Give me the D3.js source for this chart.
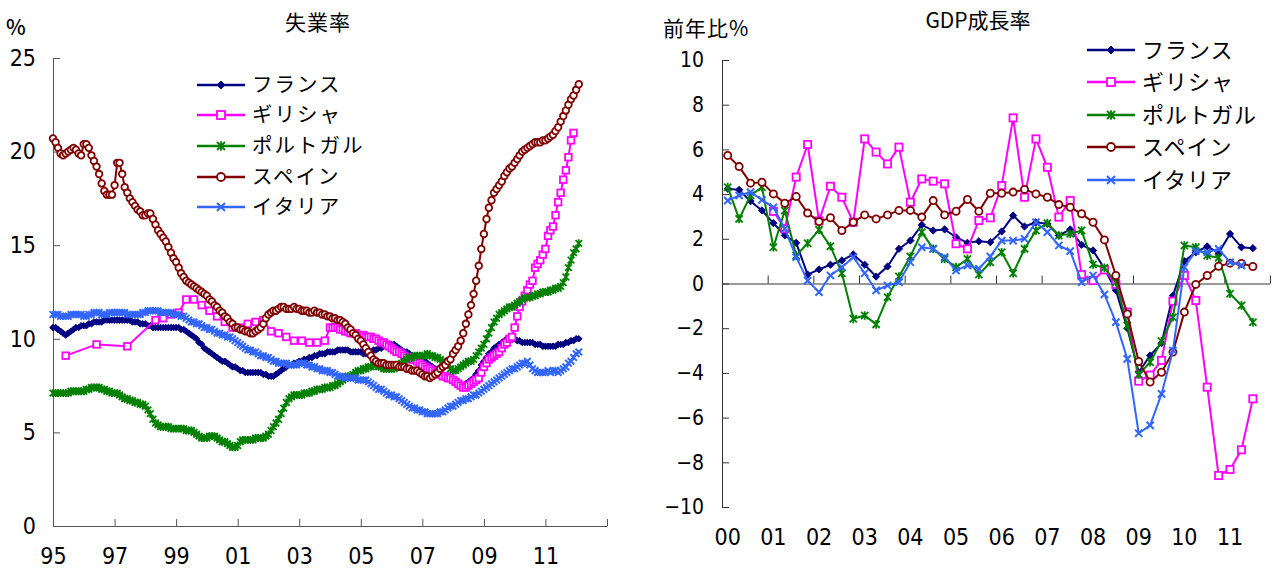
<!DOCTYPE html>
<html>
<head>
<meta charset="utf-8">
<script src="https://cdn.jsdelivr.net/npm/d3@7"></script>
<style>
  body { margin: 0; background: #fff; }
  .jp { font-family: "Noto Sans CJK JP", "Noto Sans", sans-serif; fill: #000; }
  .num { font-family: "Liberation Sans Narrow", "Arial Narrow", "DejaVu Sans Condensed", sans-serif; fill: #000; }
</style>
</head>
<body>
<svg id="chart" width="1274" height="568"></svg>
<script>
const countries = ['フランス', 'ギリシャ', 'ポルトガル', 'スペイン', 'イタリア']
const colors = ['#000080', '#ff00ff', '#008000', '#800000', '#3366ff']

// 失業率 (monthly, from 1995-01 to 2012-02)
const unempStart = '1995-01'
const unempFrance = [
  10.6, 10.6, 10.5, 10.4, 10.3, 10.2, 10.3, 10.4, 10.5, 10.6, 10.6, 10.7,
  10.7, 10.7, 10.8, 10.8, 10.9, 10.9, 10.9, 10.9, 11.0, 11.0, 11.0, 11.0,
  11.0, 11.0, 11.0, 11.0, 11.0, 11.0, 11.0, 10.9, 10.9, 10.9, 10.8, 10.8,
  10.8, 10.7, 10.7, 10.6, 10.6, 10.6, 10.6, 10.6, 10.6, 10.6, 10.6, 10.6,
  10.6, 10.6, 10.5, 10.5, 10.4, 10.3, 10.2, 10.1, 10.0, 9.8, 9.7, 9.5,
  9.4, 9.3, 9.2, 9.1, 9.0, 8.9, 8.8, 8.8, 8.7, 8.6, 8.5, 8.5,
  8.4, 8.3, 8.3, 8.2, 8.2, 8.2, 8.2, 8.2, 8.2, 8.2, 8.1, 8.1,
  8.0, 8.0, 8.0, 8.1, 8.2, 8.3, 8.4, 8.5, 8.6, 8.6, 8.7, 8.7,
  8.8, 8.8, 8.9, 8.9, 9.0, 9.0, 9.1, 9.1, 9.2, 9.2, 9.2, 9.3,
  9.3, 9.3, 9.3, 9.4, 9.4, 9.4, 9.4, 9.4, 9.3, 9.3, 9.3, 9.3,
  9.3, 9.2, 9.2, 9.3, 9.3, 9.4, 9.4, 9.5, 9.5, 9.6, 9.6, 9.6,
  9.7, 9.7, 9.6, 9.5, 9.4, 9.3, 9.3, 9.2, 9.1, 9.1, 9.0, 8.9,
  8.9, 8.8, 8.7, 8.6, 8.5, 8.4, 8.3, 8.2, 8.1, 8.0, 7.9, 7.8,
  7.7, 7.6, 7.5, 7.5, 7.5, 7.6, 7.7, 7.8, 7.9, 8.1, 8.3, 8.6,
  8.8, 9.0, 9.2, 9.3, 9.5, 9.6, 9.7, 9.8, 9.9, 10.0, 10.0, 10.0,
  10.0, 9.9, 9.9, 9.8, 9.8, 9.8, 9.8, 9.8, 9.7, 9.7, 9.7, 9.6,
  9.6, 9.6, 9.6, 9.6, 9.6, 9.7, 9.7, 9.7, 9.8, 9.8, 9.9, 9.9,
  10.0, 10.0
]
const unempPortugal = [
  7.1, 7.1, 7.1, 7.1, 7.1, 7.1, 7.1, 7.2, 7.2, 7.2, 7.2, 7.2,
  7.2, 7.3, 7.3, 7.4, 7.4, 7.4, 7.4, 7.3, 7.3, 7.2, 7.2, 7.1,
  7.1, 7.1, 7.0, 6.9, 6.8, 6.8, 6.7, 6.7, 6.6, 6.6, 6.5, 6.5,
  6.4, 6.2, 6.0, 5.7, 5.5, 5.4, 5.3, 5.3, 5.3, 5.3, 5.2, 5.2,
  5.2, 5.2, 5.2, 5.2, 5.1, 5.1, 5.1, 5.0, 4.9, 4.8, 4.7, 4.7,
  4.7, 4.8, 4.8, 4.8, 4.7, 4.6, 4.5, 4.5, 4.4, 4.3, 4.2, 4.2,
  4.3, 4.5, 4.6, 4.6, 4.6, 4.6, 4.6, 4.7, 4.7, 4.7, 4.7, 4.8,
  4.9, 5.1, 5.3, 5.5, 5.7, 6.0, 6.3, 6.6, 6.8, 6.9, 7.0, 7.0,
  7.0, 7.0, 7.1, 7.1, 7.1, 7.2, 7.2, 7.3, 7.3, 7.3, 7.4, 7.4,
  7.4, 7.5, 7.5, 7.6, 7.7, 7.8, 7.9, 8.0, 8.0, 8.1, 8.2, 8.3,
  8.3, 8.4, 8.4, 8.5, 8.5, 8.6, 8.6, 8.5, 8.5, 8.4, 8.4, 8.4,
  8.4, 8.4, 8.5, 8.6, 8.7, 8.8, 8.9, 9.0, 9.0, 9.1, 9.1, 9.1,
  9.1, 9.1, 9.2, 9.1, 9.1, 9.0, 9.0, 8.9, 8.8, 8.7, 8.6, 8.4,
  8.3, 8.3, 8.4, 8.5, 8.6, 8.7, 8.8, 8.8, 8.9, 9.1, 9.3, 9.5,
  9.7, 10.0, 10.3, 10.6, 10.9, 11.1, 11.3, 11.4, 11.5, 11.6, 11.7, 11.7,
  11.8, 11.9, 12.0, 12.1, 12.2, 12.2, 12.2, 12.3, 12.3, 12.4, 12.4, 12.5,
  12.5, 12.5, 12.6, 12.6, 12.7, 12.7, 12.8, 13.0, 13.3, 13.8, 14.2, 14.6,
  14.8, 15.1
]
const unempSpain = [
  20.7, 20.5, 20.2, 19.9, 19.8, 19.9, 20.0, 20.1, 20.2, 20.1, 19.9, 19.8,
  20.4, 20.4, 20.2, 19.8, 19.5, 19.2, 18.8, 18.3, 17.9, 17.7, 17.7, 17.7,
  18.2, 19.4, 19.4, 18.8, 18.1, 17.8, 17.5, 17.3, 17.1, 16.9, 16.8, 16.6,
  16.6, 16.7, 16.7, 16.4, 16.1, 15.8, 15.6, 15.4, 15.2, 14.9, 14.6, 14.3,
  14.1, 13.8, 13.5, 13.3, 13.1, 13.0, 12.9, 12.8, 12.7, 12.6, 12.5, 12.4,
  12.3, 12.1, 12.0, 11.8, 11.7, 11.5, 11.4, 11.2, 11.1, 10.9, 10.8, 10.6,
  10.6, 10.5, 10.5, 10.4, 10.4, 10.3, 10.3, 10.4, 10.5, 10.6, 10.8, 11.1,
  11.3, 11.4, 11.5, 11.5, 11.6, 11.7, 11.7, 11.6, 11.6, 11.6, 11.7, 11.6,
  11.6, 11.5, 11.5, 11.5, 11.4, 11.4, 11.5, 11.4, 11.4, 11.3, 11.3, 11.2,
  11.2, 11.1, 11.1, 11.0, 11.0, 10.9, 10.8, 10.6, 10.5, 10.3, 10.2, 10.0,
  9.9, 9.7, 9.5, 9.3, 9.1, 8.9, 8.8, 8.7, 8.7, 8.7, 8.6, 8.6,
  8.6, 8.6, 8.6, 8.5, 8.5, 8.5, 8.4, 8.4, 8.3, 8.3, 8.3, 8.2,
  8.1, 8.0, 8.0, 7.9, 8.0, 8.1, 8.2, 8.4, 8.5, 8.6, 8.8, 8.9,
  9.2, 9.4, 9.6, 9.9, 10.3, 10.8, 11.3, 11.8, 12.4, 13.1, 13.9, 14.8,
  15.6, 16.4, 17.0, 17.4, 17.8, 18.0, 18.2, 18.4, 18.7, 18.9, 19.1, 19.2,
  19.4, 19.6, 19.8, 20.0, 20.1, 20.2, 20.3, 20.4, 20.5, 20.5, 20.5, 20.6,
  20.6, 20.7, 20.8, 20.9, 21.1, 21.3, 21.6, 21.9, 22.2, 22.5, 22.8, 23.0,
  23.3, 23.6
]
const unempItaly = [
  11.3, 11.3, 11.3, 11.2, 11.2, 11.2, 11.2, 11.3, 11.3, 11.3, 11.3, 11.3,
  11.2, 11.2, 11.3, 11.3, 11.4, 11.4, 11.4, 11.3, 11.3, 11.3, 11.4, 11.4,
  11.4, 11.4, 11.4, 11.4, 11.4, 11.3, 11.3, 11.3, 11.3, 11.3, 11.3, 11.4,
  11.4, 11.5, 11.5, 11.5, 11.5, 11.5, 11.4, 11.4, 11.4, 11.4, 11.4, 11.3,
  11.3, 11.3, 11.2, 11.2, 11.1, 11.0, 10.9, 10.9, 10.8, 10.8, 10.7, 10.6,
  10.6, 10.5, 10.5, 10.4, 10.3, 10.3, 10.2, 10.2, 10.1, 10.1, 10.0, 9.9,
  9.8, 9.7, 9.6, 9.5, 9.4, 9.4, 9.3, 9.3, 9.2, 9.1, 9.1, 9.0,
  9.0, 8.9, 8.8, 8.8, 8.7, 8.7, 8.7, 8.7, 8.6, 8.6, 8.6, 8.6,
  8.7, 8.7, 8.7, 8.6, 8.6, 8.5, 8.5, 8.4, 8.4, 8.3, 8.3, 8.3,
  8.2, 8.2, 8.1, 8.0, 8.0, 8.0, 7.9, 7.9, 7.9, 7.9, 7.9, 7.8,
  7.8, 7.8, 7.8, 7.7, 7.6, 7.5, 7.4, 7.3, 7.3, 7.2, 7.1, 7.0,
  7.0, 6.9, 6.9, 6.8, 6.7, 6.6, 6.5, 6.4, 6.3, 6.3, 6.2, 6.2,
  6.1, 6.1, 6.0, 6.0, 6.0, 6.0, 6.0, 6.1, 6.1, 6.2, 6.3, 6.4,
  6.4, 6.5, 6.6, 6.7, 6.7, 6.8, 6.8, 6.9, 7.0, 7.0, 7.1, 7.2,
  7.3, 7.4, 7.5, 7.6, 7.7, 7.8, 7.9, 8.0, 8.1, 8.2, 8.3, 8.4,
  8.4, 8.5, 8.6, 8.7, 8.7, 8.8, 8.6, 8.4, 8.3, 8.2, 8.2, 8.2,
  8.2, 8.3, 8.2, 8.3, 8.3, 8.2, 8.3, 8.4, 8.5, 8.7, 8.8, 9.0,
  9.2, 9.3
]
// Greece: sparse early points, then monthly from 2004-01
const greeceEarlyMonths = [
  '1995-06', '1996-06', '1997-06',
  '1998-05', '1998-08', '1998-11',
  '1999-02', '1999-05', '1999-08', '1999-11',
  '2000-02', '2000-05', '2000-08', '2000-11',
  '2001-02', '2001-05', '2001-08', '2001-11',
  '2002-02', '2002-05', '2002-08', '2002-11',
  '2003-02', '2003-05', '2003-08', '2003-11'
]
const greeceEarlyValues = [
  9.1, 9.7, 9.6,
  11.0, 11.1, 11.3,
  11.4, 12.1, 12.1, 11.8,
  11.5, 11.2, 10.9, 10.6,
  10.6, 10.8, 10.9, 11.0,
  10.4, 10.3, 10.1, 9.9,
  9.9, 9.8, 9.8, 9.9
]
const greeceMonthlyStart = '2004-01'
const greeceMonthly = [
  10.6, 10.6, 10.6, 10.6, 10.5, 10.5, 10.4, 10.4, 10.3, 10.3, 10.3, 10.2,
  10.2, 10.2, 10.1, 10.1, 10.1, 10.0, 10.0, 9.9, 9.8, 9.8, 9.7, 9.6,
  9.5, 9.4, 9.3, 9.3, 9.2, 9.1, 9.0, 9.0, 8.9, 8.9, 8.8, 8.7,
  8.6, 8.5, 8.4, 8.4, 8.3, 8.2, 8.2, 8.1, 8.0, 8.0, 7.9, 7.9,
  7.8, 7.7, 7.6, 7.5, 7.4, 7.4, 7.5, 7.6, 7.7, 7.8, 7.9, 8.2,
  8.5, 8.7, 8.9, 9.0, 9.1, 9.2, 9.3, 9.5, 9.7, 9.8, 10.0, 10.1,
  10.6, 11.2, 11.7, 12.0, 12.3, 12.6, 12.9, 13.1, 13.8, 14.0, 14.2, 14.5,
  14.8, 15.5, 15.8, 16.0, 16.6, 17.3, 17.8, 18.5, 19.0, 19.7, 20.6, 21.0
]
const unempYearTicks = ['95', '97', '99', '01', '03', '05', '07', '09', '11']

// GDP成長率 (quarterly, 2000Q1 - 2011Q3), 前年比%
const gdpFrance = [
  4.24, 4.19, 3.68, 3.27, 2.70, 2.15, 1.82, 0.40, 0.63, 0.84,
  1.03, 1.30, 0.84, 0.31, 0.76, 1.55, 1.92, 2.62, 2.37, 2.42,
  2.07, 1.82, 1.89, 1.85, 2.33, 3.04, 2.55, 2.74, 2.67, 2.15,
  2.42, 1.73, 1.48, 0.66, -0.30, -2.00, -3.97, -3.22, -2.67, -0.54,
  1.00, 1.40, 1.66, 1.37, 2.22, 1.62, 1.58
]
const gdpGreece = [
  null, null, null, null, 3.23, 2.45, 4.76, 6.22, 2.80, 4.35,
  3.86, 2.74, 6.47, 5.88, 5.35, 6.10, 3.64, 4.68, 4.58, 4.46,
  1.78, 1.55, 2.82, 2.94, 4.38, 7.41, 3.86, 6.47, 5.20, 2.97,
  3.71, 0.40, 0.13, 0.61, -0.04, -1.28, -4.37, -4.10, -3.44, -0.79,
  0.36, -0.76, -4.64, -8.59, -8.32, -7.44, -5.16
]
const gdpPortugal = [
  4.31, 2.89, 3.94, 4.31, 1.62, 3.27, 1.25, 1.80, 2.40, 1.67,
  0.46, -1.58, -1.43, -1.83, -0.61, 0.31, 1.21, 2.30, 1.55, 1.10,
  0.73, 1.10, 0.40, 0.95, 1.40, 0.46, 1.55, 2.37, 2.70, 2.15,
  2.22, 2.37, 0.85, 0.70, 0.06, -1.88, -4.07, -3.52, -2.58, -1.51,
  1.70, 1.62, 1.25, 1.15, -0.46, -0.98, -1.73
]
const gdpSpain = [
  5.73, 5.23, 4.49, 4.53, 4.01, 3.59, 3.89, 3.15, 2.77, 2.94,
  2.37, 2.74, 3.07, 2.89, 3.07, 3.27, 3.27, 2.97, 3.71, 3.07,
  3.23, 3.76, 3.23, 4.04, 4.04, 4.09, 4.21, 4.01, 3.86, 3.53,
  3.41, 3.12, 2.74, 1.95, 0.36, -1.36, -3.49, -4.41, -3.97, -3.07,
  -1.28, -0.04, 0.36, 0.77, 0.91, 0.90, 0.76
]
const gdpItaly = [
  3.71, 3.94, 4.09, 3.74, 3.41, 2.45, 1.18, 0.13, -0.39, 0.36,
  0.73, 1.18, 0.46, -0.31, -0.09, 0.06, 0.95, 1.62, 1.55, 1.18,
  0.58, 0.81, 0.66, 1.21, 1.92, 1.92, 2.00, 2.74, 2.30, 1.70,
  1.45, 0.06, 0.36, -0.49, -1.73, -3.37, -6.70, -6.35, -4.94, -3.00,
  0.73, 1.45, 1.40, 1.55, 0.95, 0.81
]
const gdpYearTicks = ['00', '01', '02', '03', '04', '05', '06', '07', '08', '09', '10', '11']

const parseMonth = d3.timeParse('%Y-%m')
const svg = d3.select('#chart')

// marker shapes: diamond, square, asterisk, circle, cross
function addMarker(sel, k, s) {
    const c = colors[k]
    if (k === 0) {
        sel.append('path').attr('d', `M0,${-s}L${s},0L0,${s}L${-s},0Z`)
            .attr('fill', c).attr('stroke', c).attr('stroke-width', 1)
    } else if (k === 1) {
        sel.append('rect').attr('x', -s).attr('y', -s).attr('width', 2 * s).attr('height', 2 * s)
            .attr('fill', '#fff').attr('stroke', c).attr('stroke-width', 1.8)
    } else if (k === 2) {
        sel.append('path').attr('d', `M${-s},${-s}L${s},${s}M${-s},${s}L${s},${-s}M0,${-s * 1.2}L0,${s * 1.2}`)
            .attr('fill', 'none').attr('stroke', c).attr('stroke-width', 1.8)
    } else if (k === 3) {
        sel.append('circle').attr('r', s)
            .attr('fill', '#fff').attr('stroke', c).attr('stroke-width', 1.8)
    } else {
        sel.append('path').attr('d', `M${-s},${-s}L${s},${s}M${-s},${s}L${s},${-s}`)
            .attr('fill', 'none').attr('stroke', c).attr('stroke-width', 2)
    }
}

function drawSeries(g, data, k, xf, yf, s) {
    const line = d3.line().defined(d => d.v !== null).x(xf).y(yf)
    g.append('path').datum(data).attr('d', line)
        .attr('fill', 'none').attr('stroke', colors[k]).attr('stroke-width', 2)
    g.selectAll(null).data(data.filter(d => d.v !== null)).enter()
        .append('g').attr('transform', d => `translate(${xf(d)},${yf(d)})`)
        .each(function () { addMarker(d3.select(this), k, s) })
}

function drawLegend(x0, rows, fontSize, spacing) {
    countries.forEach((name, k) => {
        const g = svg.append('g').attr('transform', `translate(${x0},${rows[k]})`)
        g.append('line').attr('x1', 0).attr('x2', 48).attr('stroke', colors[k]).attr('stroke-width', 2.5)
        const m = g.append('g').attr('transform', 'translate(24,0)')
        addMarker(m, k, 4)
        g.append('text').attr('class', 'jp').attr('x', 55).attr('dy', '0.36em')
            .attr('font-size', fontSize).attr('letter-spacing', spacing).text(name)
    })
}

// ---------- left: 失業率 ----------
const xL = d3.scaleTime().domain([new Date(1995, 0, 1), new Date(2013, 0, 1)]).range([53, 607])
const yL = d3.scaleLinear().domain([0, 25]).range([526, 58])

const gL = svg.append('g')
gL.append('g').attr('transform', `translate(53,0)`)
    .call(d3.axisLeft(yL).tickValues([0, 5, 10, 15, 20, 25]).tickSizeInner(-7).tickSizeOuter(0).tickPadding(17))
gL.append('g').attr('transform', `translate(0,526)`)
    .call(d3.axisBottom(xL).tickValues(d3.range(1995, 2014, 2).map(y => new Date(y, 0, 1)))
        .tickSizeInner(-7).tickSizeOuter(0).tickPadding(22)
        .tickFormat((d, i) => unempYearTicks[i] || ''))
gL.selectAll('.domain, .tick line').attr('stroke', '#555')
gL.selectAll('.tick text').attr('class', 'num').attr('font-size', 23).attr('font-family', null)

const monthly = (start, vals) => vals.map((v, i) => ({ t: d3.timeMonth.offset(parseMonth(start), i), v }))
const greeceUnemp = greeceEarlyMonths.map((m, i) => ({ t: parseMonth(m), v: greeceEarlyValues[i] }))
    .concat(monthly(greeceMonthlyStart, greeceMonthly))
const unempSeries = [
    monthly(unempStart, unempFrance),
    greeceUnemp,
    monthly(unempStart, unempPortugal),
    monthly(unempStart, unempSpain),
    monthly(unempStart, unempItaly)
]
const plotL = svg.append('g')
unempSeries.forEach((data, k) => drawSeries(plotL, data, k, d => xL(d.t), d => yL(d.v), 3.3))

svg.append('text').attr('class', 'jp').attr('x', 318).attr('y', 22).attr('dy', '0.36em')
    .attr('text-anchor', 'middle').attr('font-size', 21).attr('letter-spacing', 1).text('失業率')
svg.append('text').attr('class', 'jp').attr('x', 6).attr('y', 27).attr('dy', '0.36em')
    .attr('font-size', 21).attr('font-weight', 500).text('%')
drawLegend(197, [85, 115, 146, 177, 207], 20.5, 2)

// ---------- right: GDP成長率 ----------
const xR = d3.scaleLinear().domain([0, 48]).range([722, 1270])
const yR = d3.scaleLinear().domain([-10, 10]).range([507, 60])

const gR = svg.append('g')
gR.append('g').attr('transform', `translate(722,0)`)
    .call(d3.axisLeft(yR).tickValues(d3.range(-10, 11, 2)).tickSizeInner(-7).tickSizeOuter(0).tickPadding(18))
gR.append('g').attr('transform', `translate(0,${yR(0)})`)
    .call(d3.axisBottom(xR).tickValues(d3.range(0, 49, 4)).tickSizeInner(-8).tickSizeOuter(0).tickFormat(''))
gR.selectAll('.domain, .tick line').attr('stroke', '#333')
gR.selectAll('.tick text').attr('class', 'num').attr('font-size', 21).attr('font-family', null)
gR.append('g').selectAll('text').data(gdpYearTicks).enter().append('text')
    .attr('class', 'num').attr('font-size', 23)
    .attr('x', (d, i) => xR(i * 4 + 0.5)).attr('y', 545).attr('text-anchor', 'middle').text(d => d)

const gdpSeries = [gdpFrance, gdpGreece, gdpPortugal, gdpSpain, gdpItaly]
const plotR = svg.append('g')
gdpSeries.forEach((vals, k) => {
    const data = vals.map((v, i) => ({ i, v }))
    drawSeries(plotR, data, k, d => xR(d.i + 0.5), d => yR(d.v), 3.6)
})

svg.append('text').attr('class', 'jp').attr('x', 978).attr('y', 20).attr('dy', '0.36em')
    .attr('text-anchor', 'middle').attr('font-size', 21).text('GDP成長率')
svg.append('text').attr('class', 'jp').attr('x', 663).attr('y', 28).attr('dy', '0.36em')
    .attr('font-size', 21).attr('letter-spacing', 1).text('前年比%')
drawLegend(1087, [50, 82, 115, 147, 180], 22, 1)
</script>
</body>
</html>
